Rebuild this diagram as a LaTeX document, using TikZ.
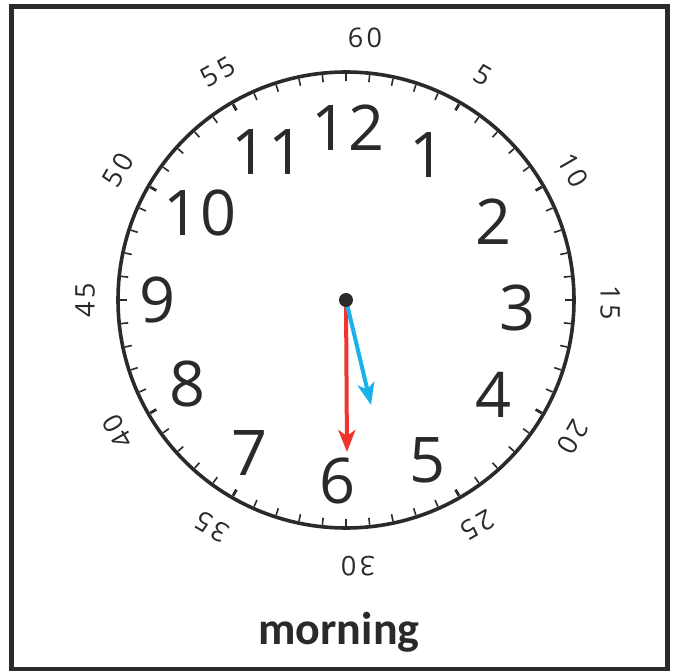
\documentclass[tikz,border=0pt]{standalone}
\usepackage{fontspec}
\setmainfont{Open Sans}
\newfontfamily\minfont[LetterSpace=12]{Open Sans}
\newfontfamily\labelfont{Carlito}
\usetikzlibrary{arrows.meta}
\definecolor{framegray}{HTML}{2B2B2B}
\definecolor{numgray}{HTML}{2A2A2A}
\definecolor{handred}{HTML}{EE3530}
\definecolor{handblue}{HTML}{17B1EC}

\begin{document}
\begin{tikzpicture}[x=1pt, y=1pt,
    hournum/.style={font=\fontsize{63}{63}\selectfont, text=numgray, inner sep=0pt},
    minlbl/.style={font=\minfont\fontsize{27}{27}\selectfont, text=numgray, inner sep=0pt},
    hand/.style={line width=4pt, -{Stealth[length=22pt, width=17pt, inset=6pt]}},
    minortick/.style={line width=1.6pt, numgray},
    majortick/.style={line width=2.8pt, numgray}
  ]
  % canvas and frame
  \useasboundingbox (-346,300) rectangle (336,-371);
  \fill[white] (-346,300) rectangle (336,-371);
  \draw[framegray, line width=5pt] (-334,293.5) rectangle (321,-369);

  % dial
  \draw[numgray, line width=3.6pt] (0,0) circle (228);
  \foreach \i in {0,...,59} {
    \pgfmathtruncatemacro{\r}{mod(\i,5)}
    \ifnum\r=0
      \draw[majortick] (90-6*\i:226) -- (90-6*\i:219);
    \else
      \draw[minortick] (90-6*\i:226) -- (90-6*\i:219);
    \fi
  }

  % hour numbers
  \foreach \h/\x/\y in {12/2/172, 1/82/145, 2/148/78, 3/172/-8, 4/148/-95,
      5/82/-160, 6/-8/-181, 7/-96/-153, 8/-158/-84, 9/-188/0, 10/-146/87, 11/-78/148}
    \node[hournum] (h\h) at (\x,\y) {\h};

  % minute labels
  \foreach \m/\x/\y in {60/19/262, 5/137/225, 10/227/130, 15/264/-3, 20/227/-137,
      25/132/-225, 30/12/-266, 35/-134/-227, 40/-228/-132, 45/-261/0, 50/-228/130, 55/-128/228}
    \node[minlbl, rotate=-6*\m] (m\m) at (\x,\y) {\m};

  % hands
  \coordinate (hub) at (0,0);
  \coordinate (minTip) at (1,-152);
  \coordinate (hourTip) at (25,-105);
  \draw[hand, handred] (hub) -- (minTip);
  \draw[hand, handblue] (hub) -- (hourTip);
  \node[circle, fill=numgray, minimum size=14pt, inner sep=0pt] (dot) at (hub) {};

  % caption
  \node[font=\labelfont\bfseries\fontsize{46}{46}\selectfont, text=numgray] (caption) at (-7,-332) {morning};
\end{tikzpicture}
\end{document}
